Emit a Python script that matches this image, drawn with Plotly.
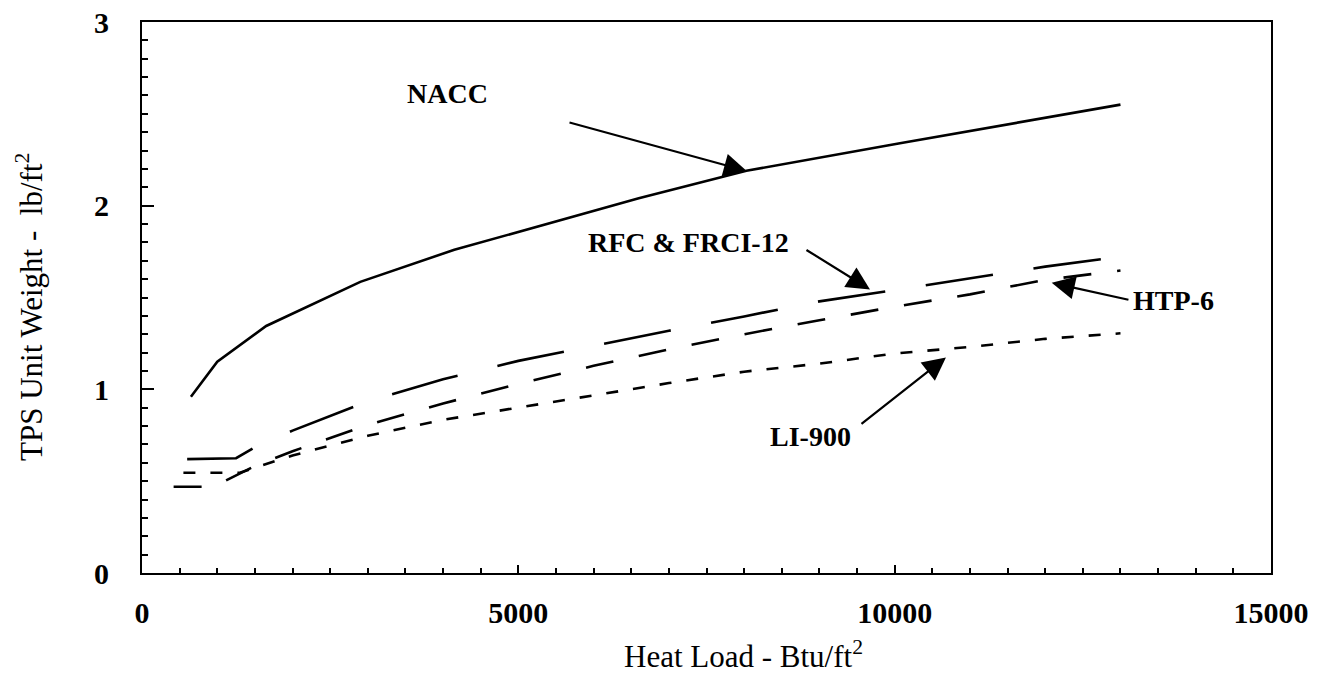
import plotly.graph_objects as go

# ---- data ----
nacc_x = [650, 1000, 1650, 2900, 4150, 5150, 6600, 8030, 10070, 13000]
nacc_y = [0.96, 1.15, 1.345, 1.585, 1.76, 1.875, 2.04, 2.19, 2.34, 2.55]

rfc_x = [600, 1250, 1500, 2000, 3000, 4000, 5000, 6000, 7000, 8000, 9000, 10000, 11000, 12000, 13000]
rfc_y = [0.62, 0.625, 0.685, 0.775, 0.935, 1.055, 1.155, 1.238, 1.319, 1.397, 1.479, 1.540, 1.605, 1.668, 1.722]

htp_x = [420, 950, 1500, 2000, 3000, 4000, 5000, 6000, 7000, 8000, 9000, 10000, 11000, 12000, 13000]
htp_y = [0.47, 0.47, 0.583, 0.663, 0.806, 0.923, 1.029, 1.128, 1.218, 1.30, 1.376, 1.45, 1.517, 1.596, 1.647]

li_x = [550, 1300, 2000, 3000, 4000, 5000, 6000, 7000, 8000, 9000, 10000, 11000, 12000, 13000]
li_y = [0.546, 0.546, 0.64, 0.747, 0.834, 0.90, 0.97, 1.034, 1.096, 1.14, 1.195, 1.231, 1.275, 1.305]

x_ticks = [0, 5000, 10000, 15000]
y_ticks = [0, 1, 2, 3]

# label text, label centre (x, y), arrow tail (x, y), arrow head (x, y)
labels = [
    ("NACC", (4065, 2.613), (5660, 2.455), (8038, 2.188)),
    ("RFC &amp; FRCI-12", (7267, 1.799), (8808, 1.764), (9672, 1.544)),
    ("HTP-6", (13711, 1.486), (13126, 1.486), (12086, 1.580)),
    ("LI-900", (8888, 0.743), (9539, 0.806), (10681, 1.174)),
]

FONT = "Liberation Serif"
L, R, T, B = 142, 1271, 22, 573   # plot area in page pixels
W, H = 1318, 677

fig = go.Figure()
series = [
    (nacc_x, nacc_y, "solid", "NACC"),
    (rfc_x, rfc_y, "68px,41px", "RFC & FRCI-12"),
    (htp_x, htp_y, "28px,26px", "HTP-6"),
    (li_x, li_y, "12px,15px", "LI-900"),
]
for xs, ys, dash, name in series:
    fig.add_trace(go.Scatter(x=xs, y=ys, mode="lines", name=name,
                             line=dict(color="black", width=2.6, dash=dash)))

ann = []
for text, (tx, ty), (ax, ay), (hx, hy) in labels:
    ann.append(dict(x=tx, y=ty, xref="x", yref="y", text="<b>%s</b>" % text,
                    xanchor="center", yanchor="middle",
                    showarrow=False, font=dict(family=FONT, size=28, color="black")))
    ann.append(dict(x=hx, y=hy, ax=ax, ay=ay, xref="x", yref="y", axref="x", ayref="y",
                    text="", showarrow=True, arrowhead=2, arrowsize=2.1, arrowwidth=2.2,
                    arrowcolor="black", standoff=0))

# axis titles placed as annotations (pixel-matched)
ann.append(dict(x=(743 - L) / (R - L), y=(B - 654) / (B - T),
                xref="paper", yref="paper", xanchor="center", yanchor="middle",
                text="Heat Load - Btu/ft<sup>2</sup>", showarrow=False,
                font=dict(family=FONT, size=31, color="black")))
ann.append(dict(x=(30 - L) / (R - L), y=(B - 307) / (B - T),
                xref="paper", yref="paper", xanchor="center", yanchor="middle",
                textangle=-90,
                text="TPS Unit Weight -  lb/ft<sup>2</sup>", showarrow=False,
                font=dict(family=FONT, size=31, color="black")))

fig.update_layout(
    width=W, height=H,
    margin=dict(l=L, r=W - R, t=T, b=H - B, autoexpand=False),
    paper_bgcolor="white", plot_bgcolor="white",
    showlegend=False,
    annotations=ann,
    font=dict(family=FONT, color="black"),
)
fig.update_xaxes(range=[0, 15000], tickvals=x_ticks, ticktext=[str(v) for v in x_ticks],
                 automargin=False, ticklabeloverflow="allow",
                 showgrid=False, zeroline=False, showline=True, linecolor="black", linewidth=2,
                 mirror=True, ticks="inside", ticklen=8, tickwidth=2, tickcolor="black",
                 minor=dict(dtick=500, ticks="inside", ticklen=5, tickwidth=2, tickcolor="black"),
                 tickfont=dict(family=FONT, size=30, color="black", weight="bold"),
                 ticklabelstandoff=12)
fig.update_yaxes(range=[0, 3], tickvals=y_ticks, ticktext=[str(v) for v in y_ticks],
                 automargin=False, ticklabeloverflow="allow",
                 showgrid=False, zeroline=False, showline=True, linecolor="black", linewidth=2,
                 mirror=True, ticks="inside", ticklen=12, tickwidth=2, tickcolor="black",
                 minor=dict(dtick=0.1, ticks="inside", ticklen=6, tickwidth=2, tickcolor="black"),
                 tickfont=dict(family=FONT, size=30, color="black", weight="bold"),
                 ticklabelstandoff=25)

fig.write_html("out.html", config={"displayModeBar": False},
               post_script="document.body.style.margin='0';")
